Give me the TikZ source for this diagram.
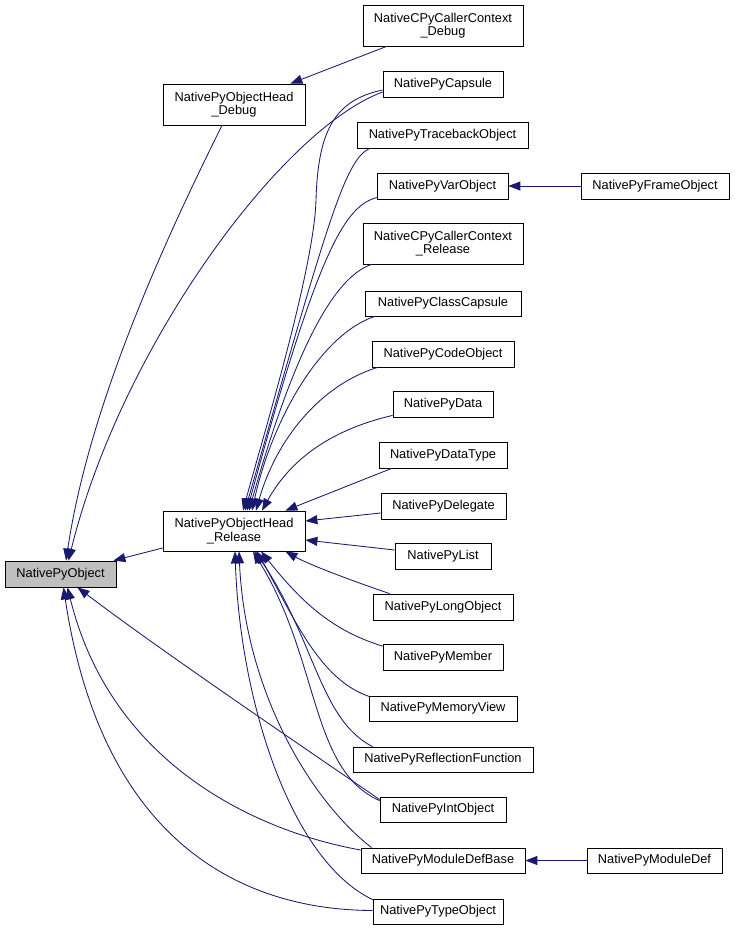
\documentclass[tikz,border=0pt]{standalone}
\usepackage{fontspec}
\setmainfont{Liberation Sans}
\usetikzlibrary{arrows.meta,calc}
\definecolor{edgec}{HTML}{191970}
\definecolor{objfill}{HTML}{BFBFBF}
\begin{document}
\begin{tikzpicture}[x=1pt,y=-1pt,
  box/.style={draw=black, line width=0.8pt, inner sep=0pt, align=center, fill=white,
    font=\fontsize{12.8}{13.6}\selectfont},
  conn/.style={draw=edgec, line width=0.85pt, -{Triangle[length=12pt,width=9pt]}}]
\useasboundingbox (0,0) rectangle (735,930);
% nodes
\node[box, fill=objfill, minimum width=111pt, minimum height=26pt] (obj) at (60.5,574) {NativePyObject};
\node[box, minimum width=142pt, minimum height=40pt] (rel) at (234,531) {NativePyObjectHead\\\_Release};
\node[box, minimum width=142pt, minimum height=41pt] (dbg) at (234,104.5) {NativePyObjectHead\\\_Debug};
\node[box, minimum width=160pt, minimum height=41pt] (ccd) at (443,25.5) {NativeCPyCallerContext\\\_Debug};
\node[box, minimum width=120pt, minimum height=26pt] (cap) at (443,84) {NativePyCapsule};
\node[box, minimum width=171pt, minimum height=26pt] (tb) at (442.5,135) {NativePyTracebackObject};
\node[box, minimum width=131pt, minimum height=26pt] (var) at (442.5,186) {NativePyVarObject};
\node[box, minimum width=148pt, minimum height=26pt] (frame) at (655,186) {NativePyFrameObject};
\node[box, minimum width=160pt, minimum height=41pt] (ccr) at (443,243.5) {NativeCPyCallerContext\\\_Release};
\node[box, minimum width=156pt, minimum height=25pt] (cls) at (443,303.5) {NativePyClassCapsule};
\node[box, minimum width=142pt, minimum height=26pt] (code) at (443,354) {NativePyCodeObject};
\node[box, minimum width=100pt, minimum height=26pt] (data) at (443,404) {NativePyData};
\node[box, minimum width=128pt, minimum height=26pt] (dt) at (443,455) {NativePyDataType};
\node[box, minimum width=125pt, minimum height=26pt] (del) at (443.5,506) {NativePyDelegate};
\node[box, minimum width=96pt, minimum height=26pt] (list) at (443,556) {NativePyList};
\node[box, minimum width=140pt, minimum height=26pt] (long) at (443,607) {NativePyLongObject};
\node[box, minimum width=120pt, minimum height=26pt] (mem) at (443,657.5) {NativePyMember};
\node[box, minimum width=148pt, minimum height=25pt] (mv) at (443,708.5) {NativePyMemoryView};
\node[box, minimum width=180pt, minimum height=25pt] (ref) at (443,759.5) {NativePyReflectionFunction};
\node[box, minimum width=126pt, minimum height=25pt] (int) at (443,809.5) {NativePyIntObject};
\node[box, minimum width=164pt, minimum height=25pt] (mdb) at (443,860.5) {NativePyModuleDefBase};
\node[box, minimum width=135pt, minimum height=25pt] (mdef) at (654.5,860.5) {NativePyModuleDef};
\node[box, minimum width=130pt, minimum height=25pt] (type) at (438,911.5) {NativePyTypeObject};
% edges to NativePyObject
\draw[conn] ($(ccd.south west)+(24,0)$) -- ($(dbg.north east)+(-15,0)$);
\draw[conn] ($(dbg.south)+(-12,0)$) .. controls (170,230) and (90,400) .. ($(obj.north)+(5.5,0)$);
\draw[conn] ($(cap.west)+(0,8)$) .. controls (280,130) and (120,350) .. ($(obj.north)+(8,0)$);
\draw[conn] ($(rel.west)+(0,17)$) -- ($(obj.north east)+(-3,0)$);
\draw[conn] ($(int.west)+(0,-10)$) .. controls (300,745) and (160,650) .. ($(obj.south)+(17,0)$);
\draw[conn] ($(mdb.west)+(0,-10.5)$) .. controls (250,830) and (110,760) .. ($(obj.south)+(7,0)$);
\draw[conn] ($(type.west)+(0,-1)$) .. controls (230,910) and (100,830) .. ($(obj.south)+(3,0)$);
% edges to NativePyObjectHead_Release (top)
\draw[conn] ($(cap.west)+(0,6)$) .. controls (335,100) and (318,130) .. (316,200) .. controls (314,270) and (262,440) .. ($(rel.north)+(9,0)$);
\draw[conn] ($(tb.south west)+(13,0)$) .. controls (345,160) and (328,220) .. ($(rel.north)+(11,0)$);
\draw[conn] ($(var.south west)+(1,-2)$) .. controls (345,205) and (318,250) .. ($(rel.north)+(13,0)$);
\draw[conn] ($(ccr.south west)+(9,0)$) .. controls (340,275) and (300,330) .. ($(rel.north)+(15,0)$);
\draw[conn] ($(cls.south west)+(10,0)$) .. controls (320,335) and (272,420) .. ($(rel.north)+(18,0)$);
\draw[conn] ($(code.south west)+(6,0)$) .. controls (320,385) and (276,440) .. ($(rel.north)+(22,0)$);
\draw[conn] ($(data.south west)+(0,-2)$) .. controls (330,430) and (290,460) .. ($(rel.north)+(28,0)$);
\draw[conn] ($(dt.south west)+(13,0)$) -- ($(rel.north east)+(-20,0)$);
% edges to NativePyObjectHead_Release (side)
\draw[conn] ($(del.west)+(0,7)$) -- ($(rel.east)+(0,-10)$);
\draw[conn] ($(list.west)+(0,-6)$) -- ($(rel.east)+(0,9)$);
% edges to NativePyObjectHead_Release (bottom)
\draw[conn] ($(long.north west)+(17,0)$) .. controls (350,580) and (310,565) .. ($(rel.south east)+(-20,0)$);
\draw[conn] ($(mem.north west)+(0,2)$) .. controls (330,630) and (300,600) .. ($(rel.south)+(27,0)$);
\draw[conn] ($(mv.north west)+(1,1)$) .. controls (320,680) and (295,620) .. ($(rel.south)+(23,0)$);
\draw[conn] ($(ref.north west)+(20,0)$) .. controls (320,720) and (315,640) .. ($(rel.south)+(21,0)$);
\draw[conn] ($(int.north west)+(0,4)$) .. controls (310,770) and (320,660) .. ($(rel.south)+(19,0)$);
\draw[conn] ($(mdb.north west)+(11,0)$) .. controls (310,800) and (245,690) .. ($(rel.south)+(5,0)$);
\draw[conn] ($(type.north west)+(0,1)$) .. controls (290,860) and (240,700) .. ($(rel.south)+(1,0)$);
% other
\draw[conn] (frame.west) -- (var.east);
\draw[conn] (mdef.west) -- (mdb.east);
\end{tikzpicture}
\end{document}
